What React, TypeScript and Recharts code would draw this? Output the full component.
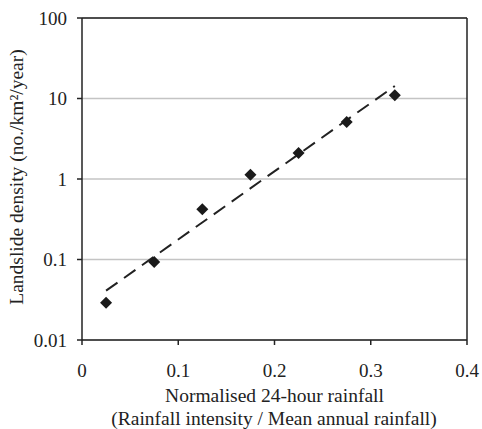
import React from 'react';
import {
  ScatterChart,
  Scatter,
  XAxis,
  YAxis,
  CartesianGrid,
  ReferenceLine,
} from 'recharts';

// observed landslide densities
const rainfallX = [0.025, 0.075, 0.125, 0.175, 0.225, 0.275, 0.325];
const densityY = [0.029, 0.093, 0.42, 1.13, 2.1, 5.1, 11];

// exponential trend line end points
const trendX = [0.025, 0.325];
const trendY = [0.041, 14.3];

const xTicks = [0, 0.1, 0.2, 0.3, 0.4];
const yTicks = [0.01, 0.1, 1, 10, 100];

const FONT = '"Liberation Serif", "Times New Roman", serif';
const INK = '#222222';

const points = rainfallX.map((x, i) => ({ x, y: densityY[i] }));
const trend = trendX.map((x, i) => ({ x, y: trendY[i] }));

const Diamond = (props: any) => {
  const { cx, cy } = props;
  const r = 6;
  return (
    <polygon
      points={`${cx},${cy - r} ${cx + r},${cy} ${cx},${cy + r} ${cx - r},${cy}`}
      fill="#1a1a1a"
    />
  );
};

const XLabel = () => (
  <g>
    <text x={274.5} y={402} textAnchor="middle" fontFamily={FONT} fontSize={19.5} fill={INK}>
      Normalised 24-hour rainfall
    </text>
    <text x={274} y={425} textAnchor="middle" fontFamily={FONT} fontSize={19.5} fill={INK}>
      (Rainfall intensity / Mean annual rainfall)
    </text>
  </g>
);

const YLabel = () => (
  <text
    x={23}
    y={177}
    transform="rotate(-90, 23, 177)"
    textAnchor="middle"
    fontFamily={FONT}
    fontSize={19.5}
    fill={INK}
  >
    Landslide density (no./km²/year)
  </text>
);

export default function App() {
  return (
    <div style={{ position: 'absolute', left: 0, top: 0, width: 482, height: 429, background: '#ffffff' }}>
      <ScatterChart
        width={482}
        height={429}
        margin={{ top: 18, right: 15, left: 0, bottom: 0 }}
      >
        <CartesianGrid vertical={false} stroke="#c4c4c4" strokeWidth={1.5} />
        <XAxis
          type="number"
          dataKey="x"
          domain={[0, 0.4]}
          ticks={xTicks}
          height={89}
          tickSize={5}
          tickMargin={19}
          axisLine={{ stroke: INK, strokeWidth: 1.5 }}
          tickLine={{ stroke: INK, strokeWidth: 1.5 }}
          tick={{ fill: INK, fontSize: 19, fontFamily: FONT }}
          label={<XLabel />}
        />
        <YAxis
          type="number"
          dataKey="y"
          scale="log"
          domain={[0.01, 100]}
          ticks={yTicks}
          allowDataOverflow
          width={82}
          tickSize={5}
          tickMargin={10}
          axisLine={{ stroke: INK, strokeWidth: 1.5 }}
          tickLine={{ stroke: INK, strokeWidth: 1.5 }}
          tick={{ fill: INK, fontSize: 19, fontFamily: FONT }}
          tickFormatter={(v: number) => String(v)}
          label={<YLabel />}
        />
        <ReferenceLine y={100} stroke={INK} strokeWidth={1.5} />
        <ReferenceLine x={0.4} stroke={INK} strokeWidth={1.5} />
        <Scatter
          data={trend}
          isAnimationActive={false}
          line={{ stroke: INK, strokeWidth: 2, strokeDasharray: '14 8' }}
          shape={() => <g />}
        />
        <Scatter data={points} isAnimationActive={false} shape={Diamond} />
      </ScatterChart>
    </div>
  );
}
